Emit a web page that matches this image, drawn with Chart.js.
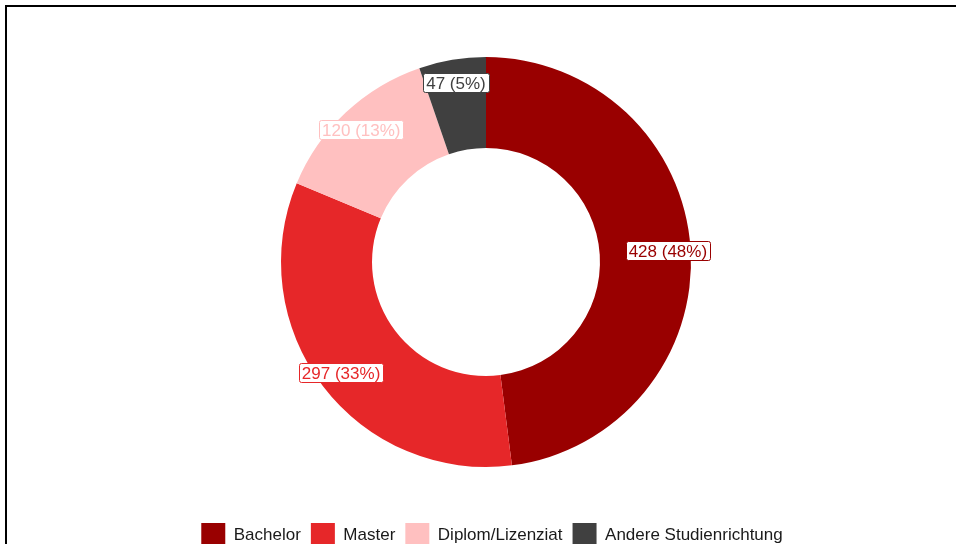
<!DOCTYPE html>
<html>
<head>
<meta charset="utf-8">
<title>Studienabschluss</title>
<script src="https://cdn.jsdelivr.net/npm/chart.js@4"></script>
<style>
  html, body { margin: 0; padding: 0; background: #fff; overflow: hidden; }
  #wrap { position: relative; width: 956px; height: 544px; overflow: hidden; }
  #grafico { position: absolute; left: 0; top: 0; }
  /* Rahmen oben und links */
  #rahmen { position: absolute; left: 5px; top: 5px; width: 2000px; height: 2000px;
            border-top: 2px solid #000; border-left: 2px solid #000; pointer-events: none; }
</style>
</head>
<body>
<div id="wrap">
  <canvas id="grafico" width="956" height="560"></canvas>
  <div id="rahmen"></div>
</div>
<script>
const kategorien = ['Bachelor', 'Master', 'Diplom/Lizenziat', 'Andere Studienrichtung'];
const werte = [428, 297, 120, 47];
const farben = ['#990000', '#E62729', '#FFC0C0', '#404040'];

const schrift = '"Liberation Sans", Arial, sans-serif';

// Beschriftung "Anzahl (Prozent)" in weissen Kaestchen auf dem Ring
const etiketten = {
  id: 'etiketten',
  afterDatasetsDraw(chart) {
    const ctx = chart.ctx;
    const meta = chart.getDatasetMeta(0);
    const summe = werte.reduce((a, b) => a + b, 0);
    ctx.save();
    ctx.font = '17px ' + schrift;
    ctx.textAlign = 'center';
    ctx.textBaseline = 'middle';
    meta.data.forEach((arc, i) => {
      const p = arc.getProps(['x', 'y', 'startAngle', 'endAngle', 'innerRadius', 'outerRadius'], true);
      const winkel = (p.startAngle + p.endAngle) / 2;
      const r = p.innerRadius + (p.outerRadius - p.innerRadius) * 0.75;
      const px = p.x + Math.cos(winkel) * r;
      const py = p.y + Math.sin(winkel) * r;
      const text = werte[i] + ' (' + Math.round(werte[i] / summe * 100) + '%)';
      const b = Math.round(ctx.measureText(text).width + 6);
      const h = 19;
      const x0 = Math.round(px - b / 2) + 0.5;
      const y0 = Math.round(py - h / 2) + 0.5;
      ctx.beginPath();
      ctx.roundRect(x0, y0, b, h, 2);
      ctx.fillStyle = '#fff';
      ctx.fill();
      ctx.lineWidth = 1;
      ctx.strokeStyle = farben[i];
      ctx.stroke();
      ctx.fillStyle = farben[i];
      ctx.fillText(text, px, y0 + h / 2 + 1);
    });
    ctx.restore();
  }
};

// Legende etwas nach rechts schieben
const legendeVersatz = {
  id: 'legendeVersatz',
  afterLayout(chart) {
    if (chart.legend) {
      chart.legend.left += 6;
      chart.legend.right += 6;
    }
  }
};

const ctx = document.querySelector('#grafico');

const grafico = new Chart(ctx, {
  type: 'doughnut',
  data: {
    labels: kategorien,
    datasets: [{
      data: werte,
      backgroundColor: farben,
      borderWidth: 0
    }]
  },
  options: {
    responsive: false,
    animation: false,
    radius: 205,
    cutout: '55.6%',
    layout: { padding: { top: 11, left: 16, right: 0, bottom: 3 } },
    plugins: {
      tooltip: { enabled: false },
      legend: {
        position: 'bottom',
        labels: {
          boxWidth: 24,
          boxHeight: 24,
          padding: 10,
          color: '#1A1A1A',
          font: { family: schrift, size: 17 }
        }
      }
    }
  },
  plugins: [etiketten, legendeVersatz]
});
</script>
</body>
</html>
